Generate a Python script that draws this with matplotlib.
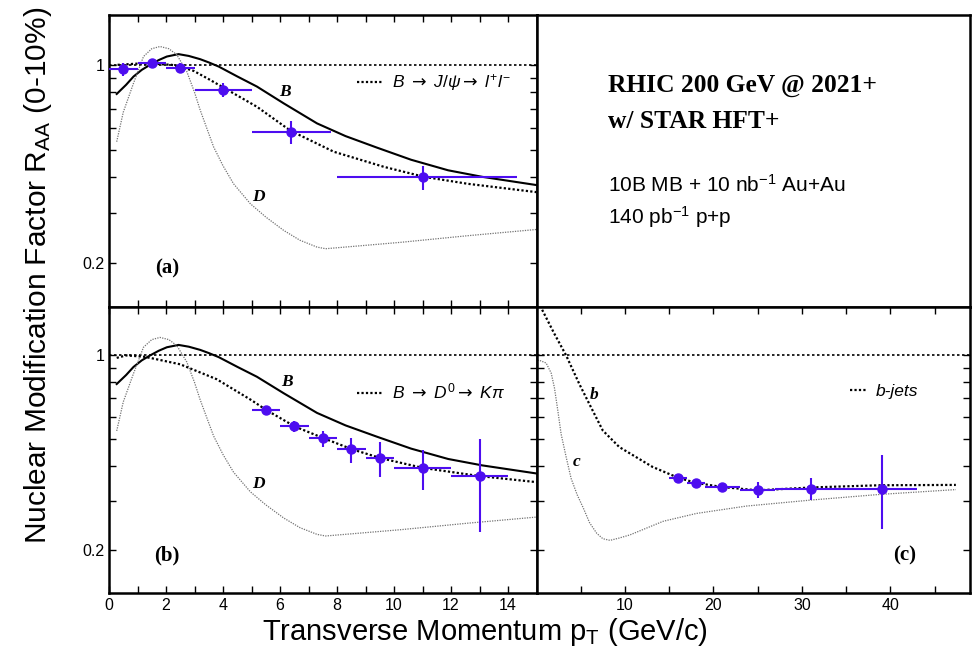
import numpy as np
import matplotlib
matplotlib.use('Agg')
import matplotlib.pyplot as plt
from matplotlib.ticker import FixedLocator, NullFormatter, FixedFormatter

plt.rcParams['font.family'] = ['Liberation Sans', 'DejaVu Sans']
plt.rcParams['mathtext.fontset'] = 'custom'
plt.rcParams['mathtext.rm'] = 'Liberation Sans'
plt.rcParams['mathtext.it'] = 'Liberation Sans:italic'
plt.rcParams['mathtext.sf'] = 'DejaVu Sans'

# ---- curves ----
# B meson R_AA (solid), panels (a) and (b)
b_pt = [0.27, 0.6, 0.86, 1.15, 1.44, 1.75, 2.03, 2.44, 2.8, 3.2, 3.5, 3.85, 4.5, 5.19, 6.13, 7.3, 8.3, 9.4, 10.6, 11.9, 13.1, 15.0]
b_raa = [0.789, 0.85, 0.909, 0.96, 1.0, 1.04, 1.07, 1.091, 1.075, 1.047, 1.02, 0.986, 0.91, 0.838, 0.731, 0.621, 0.56, 0.51, 0.462, 0.424, 0.402, 0.376]

# D meson R_AA (gray dotted), panels (a) and (b)
d_pt = [0.27, 0.5, 0.86, 1.21, 1.5, 1.79, 2.1, 2.38, 2.73, 3.0, 3.2, 3.45, 3.67, 4.0, 4.37, 4.96, 5.5, 6.13, 6.7, 7.3, 7.6, 8.5, 10.24, 12.58, 15.0]
d_raa = [0.535, 0.68, 0.861, 1.07, 1.14, 1.161, 1.14, 1.085, 0.947, 0.80, 0.692, 0.59, 0.513, 0.44, 0.38, 0.323, 0.29, 0.26, 0.24, 0.227, 0.224, 0.228, 0.236, 0.249, 0.262]

# B -> J/psi -> l+l- (dashed), panel (a)
jpsi_pt = [0.3, 1.0, 1.5, 2.2, 2.5, 2.97, 3.5, 4.0, 5.19, 6.37, 7.89, 9.65, 11.06, 12.58, 15.0]
jpsi_raa = [1.0, 1.01, 1.01, 1.0, 0.985, 0.952, 0.89, 0.833, 0.711, 0.585, 0.493, 0.436, 0.402, 0.38, 0.355]

# B -> D0 -> K pi (dashed), panel (b)
d0_pt = [0.27, 0.6, 1.2, 1.44, 2.5, 3.78, 5.0, 5.52, 6.52, 7.54, 8.54, 9.53, 11.0, 13.0, 15.0]
d0_raa = [0.98, 1.0, 0.99, 0.98, 0.929, 0.821, 0.69, 0.636, 0.555, 0.503, 0.459, 0.427, 0.394, 0.368, 0.35]

# b-jets (dashed) and c-jets (gray dotted), panel (c)
bj_pt = [0.64, 2.0, 3.35, 4.85, 5.98, 7.49, 9.36, 11.24, 13.12, 16.0, 18.0, 21.0, 25.0, 31.2, 38.75, 47.4]
bj_raa = [1.46, 1.2, 1.0, 0.788, 0.668, 0.537, 0.468, 0.431, 0.397, 0.363, 0.348, 0.336, 0.327, 0.335, 0.341, 0.342]
cj_pt = [0.11, 0.34, 1.09, 1.66, 2.03, 2.41, 2.78, 3.35, 3.91, 4.6, 5.3, 6.0, 6.81, 7.5, 8.31, 9.3, 10.56, 14.32, 18.08, 23.72, 31.2, 38.75, 47.4]
cj_raa = [0.96, 0.96, 0.939, 0.864, 0.764, 0.633, 0.522, 0.431, 0.361, 0.315, 0.282, 0.25, 0.229, 0.219, 0.216, 0.22, 0.226, 0.253, 0.27, 0.287, 0.302, 0.316, 0.329]

# ---- projected data points ----
a_x = [0.5, 1.5, 2.5, 4.0, 6.4, 11.0]
a_xlo = [0.0, 1.0, 2.0, 3.0, 5.0, 8.0]
a_xhi = [1.0, 2.0, 3.0, 5.0, 7.8, 14.3]
a_y = [0.965, 1.019, 0.978, 0.815, 0.579, 0.400]
a_elo = [0.05, 0.025, 0.04, 0.047, 0.052, 0.038]
a_ehi = [0.05, 0.025, 0.04, 0.046, 0.055, 0.04]

b_x = [5.5, 6.5, 7.5, 8.5, 9.5, 11.0, 13.0]
b_xlo = [5, 6, 7, 8, 9, 10, 12]
b_xhi = [6, 7, 8, 9, 10, 12, 14]
b_y = [0.636, 0.555, 0.503, 0.459, 0.427, 0.394, 0.368]
b_elo = [0.015, 0.023, 0.035, 0.048, 0.061, 0.066, 0.136]
b_ehi = [0.015, 0.024, 0.03, 0.046, 0.061, 0.064, 0.133]

c_x = [16, 18, 21, 25, 31, 39]
c_xlo = [15, 17, 19, 23, 27, 35]
c_xhi = [17, 19, 23, 27, 35, 43]
c_y = [0.363, 0.348, 0.336, 0.327, 0.331, 0.331]
c_elo = [0.008, 0.008, 0.008, 0.021, 0.029, 0.093]
c_ehi = [0.008, 0.008, 0.008, 0.024, 0.03, 0.106]

blue = '#4D0DF0'
ylim = (0.14, 1.5)

fig = plt.figure(figsize=(9.73, 6.68), dpi=100)
L, M, R = 109 / 973, 536.5 / 973, 970 / 973
T, MID, B = 1 - 15 / 668, 1 - 306.5 / 668, 1 - 592.7 / 668
ax_a = fig.add_axes([L, MID, M - L, T - MID])
ax_b = fig.add_axes([L, B, M - L, MID - B])
ax_t = fig.add_axes([M, MID, R - M, T - MID])
ax_c = fig.add_axes([M, B, R - M, MID - B])


def style(ax, xmax, major, minor, xlabels):
    ax.set_yscale('log')
    ax.set_ylim(*ylim)
    ax.set_xlim(0, xmax)
    ax.xaxis.set_major_locator(FixedLocator(major))
    ax.xaxis.set_minor_locator(FixedLocator(minor))
    if not xlabels:
        ax.xaxis.set_major_formatter(NullFormatter())
    ax.yaxis.set_major_locator(FixedLocator([0.2, 1.0]))
    ax.yaxis.set_major_formatter(FixedFormatter(['0.2', '1']))
    ax.yaxis.set_minor_locator(FixedLocator([0.3, 0.4, 0.5, 0.6, 0.7, 0.8, 0.9]))
    ax.yaxis.set_minor_formatter(NullFormatter())
    ax.tick_params(which='both', direction='in', top=True, right=True, labelsize=11.5, width=1.0)
    ax.tick_params(which='major', length=5)
    ax.tick_params(which='minor', length=5)
    for s in ax.spines.values():
        s.set_linewidth(1.8)


def data(ax, x, xlo, xhi, y, elo, ehi):
    xerr = [np.array(x) - np.array(xlo), np.array(xhi) - np.array(x)]
    ax.errorbar(x, y, xerr=xerr, yerr=[elo, ehi], fmt='o', color=blue, ms=6.5,
                elinewidth=1.5, capsize=0, zorder=5)


lab = dict(family='Liberation Serif', weight='bold', style='italic', fontsize=12.5, ha='center', va='center')
tag = dict(family='Liberation Serif', weight='bold', fontsize=15, ha='center', va='center')
dense = (0, (1.0, 1.0))
for ax in (ax_a, ax_b, ax_c):
    ax.axhline(1.0, color='black', lw=1.2, ls=(0, (1.5, 1.5)))

# panel (a)
style(ax_a, 15, range(0, 16, 2), range(1, 16, 2), False)
ax_a.plot(b_pt, b_raa, color='black', lw=1.5)
ax_a.plot(d_pt, d_raa, color='0.45', lw=0.9, ls=(0, (1, 1)))
ax_a.plot(jpsi_pt, jpsi_raa, color='black', lw=1.6, ls=dense,
          label=r'$B\ \mathsf{\rightarrow}\ J/\psi\mathsf{\rightarrow}\ l^{+}l^{-}$')
data(ax_a, a_x, a_xlo, a_xhi, a_y, a_elo, a_ehi)
ax_a.text(6.19, 0.80, 'B', **lab)
ax_a.text(5.25, 0.341, 'D', **lab)
ax_a.text(2.03, 0.19, '(a)', **tag)
ax_a.legend(loc='center left', bbox_to_anchor=(0.579, 0.767), frameon=False, borderpad=0, borderaxespad=0,
            handlelength=1.55, handletextpad=0.5, fontsize=12.5)

# panel (b)
style(ax_b, 15, range(0, 16, 2), range(1, 16, 2), True)
ax_b.plot(b_pt, b_raa, color='black', lw=1.5)
ax_b.plot(d_pt, d_raa, color='0.45', lw=0.9, ls=(0, (1, 1)))
ax_b.plot(d0_pt, d0_raa, color='black', lw=1.6, ls=dense,
          label=r'$B\ \mathsf{\rightarrow}\ D^{0}\mathsf{\rightarrow}\ K\pi$')
data(ax_b, b_x, b_xlo, b_xhi, b_y, b_elo, b_ehi)
ax_b.text(6.25, 0.80, 'B', **lab)
ax_b.text(5.25, 0.346, 'D', **lab)
ax_b.text(2.03, 0.19, '(b)', **tag)
ax_b.legend(loc='center left', bbox_to_anchor=(0.579, 0.702), frameon=False, borderpad=0, borderaxespad=0,
            handlelength=1.55, handletextpad=0.5, fontsize=12.5)

# panel (c)
style(ax_c, 49, [10, 20, 30, 40], [5, 15, 25, 35, 45], True)
ax_c.yaxis.set_major_formatter(NullFormatter())
ax_c.plot(cj_pt, cj_raa, color='0.45', lw=0.9, ls=(0, (1, 1)))
ax_c.plot(bj_pt, bj_raa, color='black', lw=1.6, ls=dense, label='b-jets')
data(ax_c, c_x, c_xlo, c_xhi, c_y, c_elo, c_ehi)
ax_c.text(6.54, 0.72, 'b', **lab)
ax_c.text(4.48, 0.414, 'c', **lab)
ax_c.text(41.6, 0.19, '(c)', **tag)
ax_c.legend(loc='center left', bbox_to_anchor=(0.723, 0.702), frameon=False, borderpad=0, borderaxespad=0,
            handlelength=1.0, handletextpad=0.5, prop={'family': 'Liberation Sans', 'style': 'italic', 'size': 12.5})

# top-right text panel
ax_t.set_xticks([])
ax_t.set_yticks([])
for s in ax_t.spines.values():
    s.set_linewidth(1.8)
ax_t.text(0.165, 0.736, 'RHIC 200 GeV @ 2021+', transform=ax_t.transAxes, family='Liberation Serif',
          weight='bold', fontsize=18.4, va='baseline')
ax_t.text(0.165, 0.611, 'w/ STAR HFT+', transform=ax_t.transAxes, family='Liberation Serif',
          weight='bold', fontsize=18.4, va='baseline')
ax_t.text(0.165, 0.395, r'10B MB + 10 nb$^{\mathregular{-1}}$ Au+Au', transform=ax_t.transAxes,
          family='Liberation Sans', fontsize=15, va='baseline')
ax_t.text(0.165, 0.282, r'140 pb$^{\mathregular{-1}}$ p+p', transform=ax_t.transAxes,
          family='Liberation Sans', fontsize=15, va='baseline')

fig.text(38 / 973, 1 - 275 / 668, r'Nuclear Modification Factor R$_{\mathregular{AA}}$ (0-10%)',
         rotation=90, ha='center', va='center', fontsize=21.5)
fig.text(485 / 973, 1 - 632 / 668, r'Transverse Momentum p$_{\mathregular{T}}$ (GeV/c)',
         ha='center', va='center', fontsize=21)

fig.savefig('out.png', dpi=100)
